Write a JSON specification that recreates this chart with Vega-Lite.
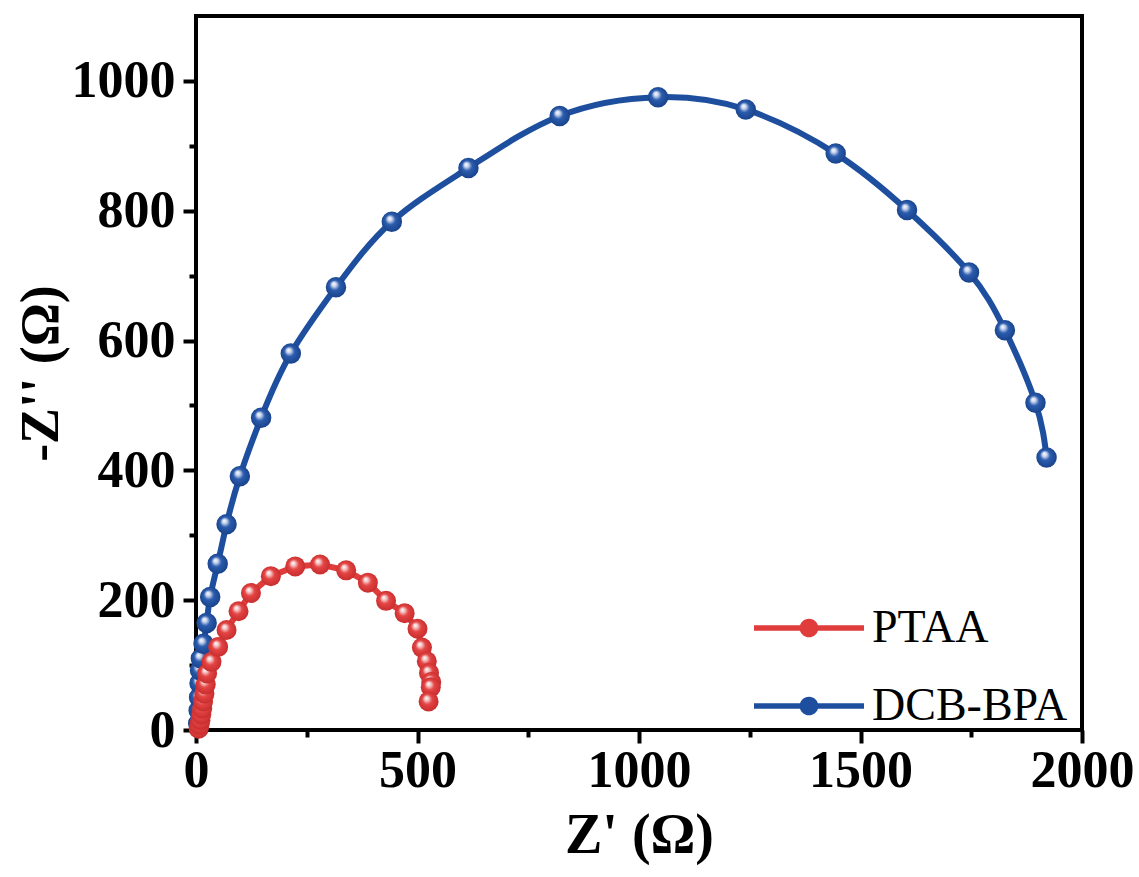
{
  "$schema": "https://vega.github.io/schema/vega-lite/v6.json",
  "autosize": "none",
  "width": 886,
  "height": 714,
  "padding": {"left": 196, "top": 16, "right": 57, "bottom": 147},
  "background": "white",
  "config": {
    "view": {"stroke": "black", "strokeWidth": 4},
    "font": "Liberation Serif"
  },
  "data": {
    "values": [
      {"s": "DCB-BPA", "x": 5, "y": 10},
      {"s": "DCB-BPA", "x": 6, "y": 30},
      {"s": "DCB-BPA", "x": 7, "y": 50},
      {"s": "DCB-BPA", "x": 8, "y": 72},
      {"s": "DCB-BPA", "x": 9, "y": 92},
      {"s": "DCB-BPA", "x": 11, "y": 110},
      {"s": "DCB-BPA", "x": 17, "y": 133},
      {"s": "DCB-BPA", "x": 24, "y": 165},
      {"s": "DCB-BPA", "x": 32, "y": 205},
      {"s": "DCB-BPA", "x": 49, "y": 256},
      {"s": "DCB-BPA", "x": 69, "y": 317},
      {"s": "DCB-BPA", "x": 99, "y": 391},
      {"s": "DCB-BPA", "x": 147, "y": 481},
      {"s": "DCB-BPA", "x": 214, "y": 580},
      {"s": "DCB-BPA", "x": 316, "y": 682},
      {"s": "DCB-BPA", "x": 442, "y": 783},
      {"s": "DCB-BPA", "x": 615, "y": 866},
      {"s": "DCB-BPA", "x": 821, "y": 946},
      {"s": "DCB-BPA", "x": 1043, "y": 975},
      {"s": "DCB-BPA", "x": 1241, "y": 956},
      {"s": "DCB-BPA", "x": 1444, "y": 888},
      {"s": "DCB-BPA", "x": 1605, "y": 801},
      {"s": "DCB-BPA", "x": 1745, "y": 705},
      {"s": "DCB-BPA", "x": 1826, "y": 616},
      {"s": "DCB-BPA", "x": 1895, "y": 504},
      {"s": "DCB-BPA", "x": 1920, "y": 420},
      {"s": "PTAA", "x": 6, "y": 2},
      {"s": "PTAA", "x": 8, "y": 8},
      {"s": "PTAA", "x": 10, "y": 15},
      {"s": "PTAA", "x": 12, "y": 24},
      {"s": "PTAA", "x": 14, "y": 33},
      {"s": "PTAA", "x": 16, "y": 44},
      {"s": "PTAA", "x": 19, "y": 56},
      {"s": "PTAA", "x": 22, "y": 70},
      {"s": "PTAA", "x": 25, "y": 87},
      {"s": "PTAA", "x": 35, "y": 105},
      {"s": "PTAA", "x": 50, "y": 128},
      {"s": "PTAA", "x": 69, "y": 154},
      {"s": "PTAA", "x": 96, "y": 183},
      {"s": "PTAA", "x": 124, "y": 211},
      {"s": "PTAA", "x": 169, "y": 237},
      {"s": "PTAA", "x": 224, "y": 252},
      {"s": "PTAA", "x": 280, "y": 255},
      {"s": "PTAA", "x": 339, "y": 246},
      {"s": "PTAA", "x": 388, "y": 227},
      {"s": "PTAA", "x": 429, "y": 199},
      {"s": "PTAA", "x": 471, "y": 180},
      {"s": "PTAA", "x": 500, "y": 156},
      {"s": "PTAA", "x": 510, "y": 127},
      {"s": "PTAA", "x": 521, "y": 106},
      {"s": "PTAA", "x": 526, "y": 88},
      {"s": "PTAA", "x": 531, "y": 74},
      {"s": "PTAA", "x": 530, "y": 66},
      {"s": "PTAA", "x": 525, "y": 44}
    ]
  },
  "encoding": {
    "x": {
      "field": "x", "type": "quantitative",
      "scale": {"domain": [0, 2000], "nice": false, "zero": false},
      "axis": {
        "values": [0, 250, 500, 750, 1000, 1250, 1500, 1750, 2000],
        "labelExpr": "datum.value % 500 === 0 ? datum.label : ''",
        "format": "d",
        "domain": false, "grid": false,
        "tickColor": "black", "tickWidth": 4,
        "tickSize": {"condition": {"test": "datum.value % 500 === 0", "value": 13}, "value": 7},
        "labelFont": "Liberation Serif", "labelFontSize": 52, "labelFontWeight": "bold", "labelColor": "black",
        "labelPadding": 2, "labelFlush": false, "labelOverlap": false,
        "title": "Z' (Ω)", "titleFont": "Liberation Serif", "titleFontSize": 56, "titleFontWeight": "bold", "titleColor": "black",
        "titlePadding": 12
      }
    },
    "y": {
      "field": "y", "type": "quantitative",
      "scale": {"domain": [0, 1100], "nice": false, "zero": false},
      "axis": {
        "values": [0, 100, 200, 300, 400, 500, 600, 700, 800, 900, 1000],
        "labelExpr": "datum.value % 200 === 0 ? datum.label : ''",
        "format": "d",
        "domain": false, "grid": false,
        "tickColor": "black", "tickWidth": 4,
        "tickSize": {"condition": {"test": "datum.value % 200 === 0", "value": 13}, "value": 7},
        "labelFont": "Liberation Serif", "labelFontSize": 52, "labelFontWeight": "bold", "labelColor": "black",
        "labelPadding": 8, "labelFlush": false, "labelOverlap": false,
        "title": "-Z'' (Ω)", "titleFont": "Liberation Serif", "titleFontSize": 54, "titleFontWeight": "bold", "titleColor": "black",
        "titlePadding": 3
      }
    }
  },
  "layer": [
    {
      "transform": [{"filter": "datum.s === 'DCB-BPA'"}],
      "mark": {"type": "line", "interpolate": "natural", "strokeWidth": 6},
      "encoding": {
        "order": {"value": null},
        "color": {
          "field": "s", "type": "nominal",
          "scale": {"domain": ["PTAA", "DCB-BPA"], "range": ["#e03c3c", "#1e4f9e"]},
          "legend": {
            "title": null,
            "orient": "none",
            "legendX": 558,
            "legendY": 557,
            "symbolType": "M-1,-0.05H1V0.05H-1Z M0.17,0A0.17,0.17,0,1,1,-0.17,0A0.17,0.17,0,1,1,0.17,0Z",
            "symbolSize": 12100,
            "symbolStrokeWidth": 0,
            "labelFont": "Liberation Serif",
            "labelFontSize": 46,
            "labelColor": "black",
            "labelLimit": 400,
            "labelOffset": 8,
            "rowPadding": -20,
            "encode": {"symbols": {"update": {"fill": {"scale": "color", "field": "value"}, "strokeWidth": {"value": 0}}}}
          }
        }
      }
    },
    {
      "transform": [{"filter": "datum.s === 'DCB-BPA'"}],
      "mark": {
        "type": "point", "filled": true, "size": 420, "opacity": 1, "strokeWidth": 0,
        "fill": {
          "gradient": "radial", "x1": 0.38, "y1": 0.32, "r1": 0, "x2": 0.5, "y2": 0.5, "r2": 0.55,
          "stops": [
            {"offset": 0, "color": "#ffffff"},
            {"offset": 0.2, "color": "#c8d4ec"},
            {"offset": 0.45, "color": "#2b5cae"},
            {"offset": 1, "color": "#163f86"}
          ]
        }
      }
    },
    {
      "transform": [{"filter": "datum.s === 'PTAA'"}],
      "mark": {"type": "line", "strokeWidth": 6, "color": "#e03c3c"},
      "encoding": {"order": {"value": null}}
    },
    {
      "transform": [{"filter": "datum.s === 'PTAA'"}],
      "mark": {
        "type": "point", "filled": true, "size": 400, "opacity": 1, "strokeWidth": 0,
        "fill": {
          "gradient": "radial", "x1": 0.38, "y1": 0.32, "r1": 0, "x2": 0.5, "y2": 0.5, "r2": 0.55,
          "stops": [
            {"offset": 0, "color": "#ffffff"},
            {"offset": 0.2, "color": "#f4c4c4"},
            {"offset": 0.45, "color": "#e44444"},
            {"offset": 1, "color": "#c42a2a"}
          ]
        }
      }
    }
  ]
}
